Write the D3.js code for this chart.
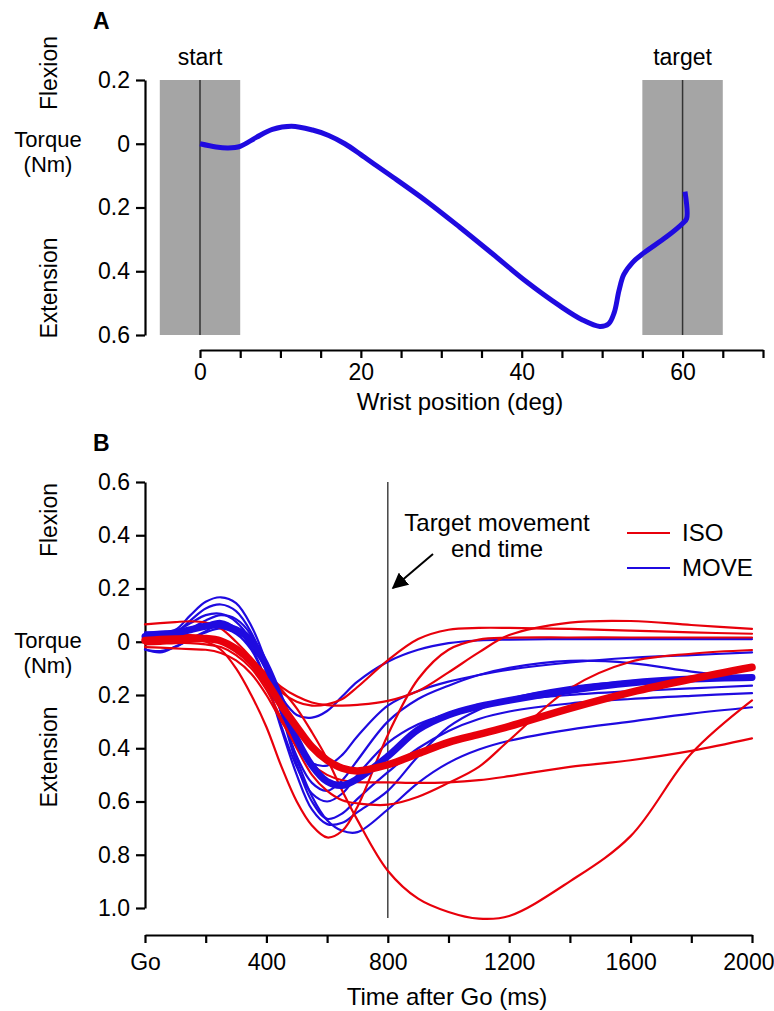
<!DOCTYPE html>
<html><head><meta charset="utf-8">
<script src="https://cdn.jsdelivr.net/npm/d3@7"></script>
<style>
body{margin:0;background:#fff}
svg{display:block}
text{font-family:"Liberation Sans",Arial,Helvetica,sans-serif;}
</style>
</head><body>
<svg id="chart" width="774" height="1011"></svg>
<script>
// ---------- Panel A data ----------
const wristPos    = [0, 2, 3.5, 5, 7, 9, 11.4, 14, 16, 18, 20, 22, 24, 28.2, 32.3, 36.4, 40.6, 44.7, 47.5, 49.7, 50.8, 51.5, 52.1, 52.7, 53.8, 55.1, 58, 60, 60.5, 60.3];
const wristTorque = [0, -0.01, -0.013, -0.008, 0.02, 0.045, 0.055, 0.043, 0.026, 0.0, -0.034, -0.07, -0.105, -0.181, -0.262, -0.346, -0.433, -0.508, -0.552, -0.573, -0.565, -0.53, -0.46, -0.41, -0.372, -0.344, -0.292, -0.25, -0.235, -0.15];
const aYTickValues = [0.2, 0, -0.2, -0.4, -0.6];
const aXTickValues = [0, 5, 10, 15, 20, 25, 30, 35, 40, 45, 50, 55, 60, 65, 70];
const aXTickLabels = [0, 20, 40, 60];
const zoneNames = ["start", "target"];
const zoneCenters = [0, 60];
const zoneHalfWidth = 5;

// ---------- Panel B data ----------
const timeMs = [0, 50, 100, 150, 200, 250, 300, 350, 400, 450, 500, 550, 600, 650, 700, 800, 900, 1000, 1100, 1200, 1400, 1600, 1800, 2000];
const isoMean  = [0.005, 0.008, 0.01, 0.012, 0.012, 0.003, -0.027, -0.075, -0.15, -0.24, -0.32, -0.395, -0.445, -0.475, -0.485, -0.462, -0.42, -0.378, -0.348, -0.318, -0.25, -0.19, -0.14, -0.096];
const moveMean = [0.02, 0.025, 0.033, 0.045, 0.058, 0.062, 0.045, 0.005, -0.09, -0.225, -0.365, -0.465, -0.525, -0.54, -0.515, -0.43, -0.33, -0.275, -0.243, -0.22, -0.183, -0.155, -0.14, -0.134];
const iso1 = [0.065, 0.07, 0.074, 0.077, 0.072, 0.05, 0.0, -0.06, -0.13, -0.19, -0.225, -0.24, -0.235, -0.215, -0.17, -0.07, 0.01, 0.045, 0.052, 0.052, 0.048, 0.042, 0.035, 0.03];
const iso2 = [0.02, 0.02, 0.025, 0.025, 0.02, 0.008, -0.03, -0.07, -0.12, -0.17, -0.205, -0.228, -0.238, -0.24, -0.237, -0.222, -0.185, -0.115, -0.04, 0.025, 0.072, 0.078, 0.063, 0.048];
const iso3 = [0.0, 0.002, 0.005, 0.005, 0.0, -0.03, -0.1, -0.2, -0.32, -0.47, -0.6, -0.69, -0.735, -0.71, -0.62, -0.35, -0.14, -0.03, 0.008, 0.015, 0.016, 0.016, 0.016, 0.016];
const iso4 = [-0.01, -0.008, -0.005, -0.005, -0.01, -0.02, -0.05, -0.1, -0.18, -0.29, -0.4, -0.5, -0.56, -0.595, -0.607, -0.612, -0.582, -0.53, -0.47, -0.37, -0.175, -0.075, -0.045, -0.031];
const iso5 = [-0.02, -0.022, -0.025, -0.028, -0.03, -0.042, -0.07, -0.12, -0.2, -0.3, -0.39, -0.46, -0.5, -0.52, -0.527, -0.528, -0.53, -0.528, -0.52, -0.505, -0.47, -0.445, -0.41, -0.363];
const iso6 = [0.01, 0.012, 0.015, 0.015, 0.01, 0.0, -0.03, -0.07, -0.12, -0.18, -0.25, -0.34, -0.44, -0.56, -0.67, -0.86, -0.965, -1.015, -1.04, -1.03, -0.9, -0.73, -0.42, -0.22];
const move1 = [0.01, 0.012, 0.02, 0.04, 0.065, 0.078, 0.05, -0.02, -0.1, -0.21, -0.275, -0.285, -0.26, -0.205, -0.15, -0.075, -0.03, -0.005, 0.005, 0.008, 0.01, 0.01, 0.01, 0.01];
const move2 = [0.03, 0.032, 0.04, 0.07, 0.1, 0.105, 0.075, 0.005, -0.11, -0.26, -0.39, -0.455, -0.465, -0.425, -0.355, -0.24, -0.185, -0.15, -0.125, -0.105, -0.078, -0.06, -0.05, -0.04];
const move3 = [0.02, 0.025, 0.035, 0.08, 0.125, 0.14, 0.115, 0.035, -0.1, -0.27, -0.43, -0.53, -0.56, -0.52, -0.445, -0.3, -0.215, -0.165, -0.125, -0.098, -0.072, -0.08, -0.112, -0.14];
const move4 = [-0.028, -0.04, -0.018, 0.01, 0.035, 0.05, 0.03, -0.03, -0.15, -0.32, -0.47, -0.57, -0.6, -0.57, -0.5, -0.38, -0.31, -0.27, -0.242, -0.222, -0.2, -0.186, -0.175, -0.165];
const move5 = [0.035, 0.038, 0.045, 0.1, 0.15, 0.167, 0.145, 0.06, -0.08, -0.27, -0.46, -0.6, -0.665, -0.645, -0.59, -0.49, -0.4, -0.335, -0.29, -0.262, -0.232, -0.215, -0.203, -0.193];
const move6 = [-0.03, -0.035, -0.02, 0.01, 0.04, 0.07, 0.05, -0.02, -0.15, -0.33, -0.5, -0.63, -0.685, -0.68, -0.64, -0.56, -0.43, -0.32, -0.255, -0.215, -0.17, -0.148, -0.136, -0.128];
const move7 = [0.02, 0.022, 0.025, 0.05, 0.08, 0.1, 0.085, 0.025, -0.1, -0.27, -0.44, -0.58, -0.67, -0.71, -0.715, -0.63, -0.53, -0.455, -0.405, -0.372, -0.33, -0.3, -0.27, -0.246];
const bYTickValues = [0.6, 0.4, 0.2, 0, -0.2, -0.4, -0.6, -0.8, -1.0];
const bXTickValues = [0, 200, 400, 600, 800, 1000, 1200, 1400, 1600, 1800, 2000];
const bXTickLabels = [0, 400, 800, 1200, 1600, 2000];
const movementEndTime = 800;
const legendNames = ["ISO", "MOVE"];

const RED = "#e8000b", BLUE = "#1f0ae0";
const FONT = 23, TITLE_FONT = 24, YLAB_FONT = 22;
const svg = d3.select("#chart");

function styleAxis(g) {
  g.attr("font-size", FONT).attr("font-family", '"Liberation Sans",Arial,Helvetica,sans-serif');
  g.selectAll("path.domain").attr("stroke", "#000").attr("stroke-width", 2.2);
  g.selectAll(".tick line").attr("stroke", "#000").attr("stroke-width", 2.2);
  g.selectAll(".tick text").attr("fill", "#000");
}

// ================= Panel A =================
const xA = d3.scaleLinear().domain([0, 70]).range([200, 763]);
const yA = d3.scaleLinear().domain([0.2, -0.6]).range([80, 335]);

zoneCenters.forEach((c, i) => {
  svg.append("rect")
    .attr("x", xA(c - zoneHalfWidth)).attr("y", yA(0.2))
    .attr("width", xA(c + zoneHalfWidth) - xA(c - zoneHalfWidth))
    .attr("height", yA(-0.6) - yA(0.2))
    .attr("fill", "#a5a5a5");
  svg.append("line")
    .attr("x1", xA(c)).attr("x2", xA(c)).attr("y1", yA(0.2)).attr("y2", yA(-0.6))
    .attr("stroke", "#333").attr("stroke-width", 1.5);
  svg.append("text").attr("x", xA(c)).attr("y", 65).attr("text-anchor", "middle")
    .attr("font-size", FONT).text(zoneNames[i]);
});

const gyA = svg.append("g").attr("transform", "translate(145,0)")
  .call(d3.axisLeft(yA).tickValues(aYTickValues).tickSize(9).tickPadding(6).tickSizeOuter(0)
    .tickFormat(d => d === 0 ? "0" : Math.abs(d).toFixed(1)));
styleAxis(gyA);

const gxA = svg.append("g").attr("transform", "translate(0,350)")
  .call(d3.axisBottom(xA).tickValues(aXTickValues).tickSize(8).tickPadding(6).tickSizeOuter(0)
    .tickFormat(d => aXTickLabels.includes(d) ? d : ""));
styleAxis(gxA);

svg.append("text").attr("x", 460).attr("y", 410).attr("text-anchor", "middle")
  .attr("font-size", TITLE_FONT).text("Wrist position (deg)");

const lineA = d3.line().x((d, i) => xA(wristPos[i])).y(d => yA(d)).curve(d3.curveCatmullRom.alpha(0.5));
svg.append("path").attr("d", lineA(wristTorque)).attr("fill", "none")
  .attr("stroke", BLUE).attr("stroke-width", 5).attr("stroke-linejoin", "round");

function yLabels(cFlex, torqueBase, cExt) {
  svg.append("text").attr("transform", `translate(57,${cFlex}) rotate(-90)`).attr("text-anchor", "middle")
    .attr("font-size", FONT).text("Flexion");
  svg.append("text").attr("x", 48).attr("y", torqueBase).attr("text-anchor", "middle")
    .attr("font-size", YLAB_FONT).text("Torque");
  svg.append("text").attr("x", 48).attr("y", torqueBase + 25).attr("text-anchor", "middle")
    .attr("font-size", YLAB_FONT).text("(Nm)");
  svg.append("text").attr("transform", `translate(57,${cExt}) rotate(-90)`).attr("text-anchor", "middle")
    .attr("font-size", FONT).text("Extension");
}
yLabels(73, 147, 288);
svg.append("text").attr("x", 93).attr("y", 29).attr("font-size", 23).attr("font-weight", "bold").text("A");

// ================= Panel B =================
const xB = d3.scaleLinear().domain([0, 2000]).range([145, 752]);
const yB = d3.scaleLinear().domain([0.6, -1.0]).range([482, 908]);

const gyB = svg.append("g").attr("transform", "translate(145,0)")
  .call(d3.axisLeft(yB).tickValues(bYTickValues).tickSize(9).tickPadding(6).tickSizeOuter(0)
    .tickFormat(d => Math.abs(d) < 1e-9 ? "0" : Math.abs(d).toFixed(1)));
styleAxis(gyB);

const gxB = svg.append("g").attr("transform", "translate(0,935)")
  .call(d3.axisBottom(xB).tickValues(bXTickValues).tickSize(8).tickPadding(11).tickSizeOuter(0)
    .tickFormat(d => d === 0 ? "Go" : (bXTickLabels.includes(d) ? d : "")));
styleAxis(gxB);
gxB.selectAll(".tick text").filter(d => d === 2000).attr("text-anchor", "end").attr("dx", 22);

svg.append("text").attr("x", 447).attr("y", 1005).attr("text-anchor", "middle")
  .attr("font-size", TITLE_FONT).text("Time after Go (ms)");

yLabels(520, 648, 757);
svg.append("text").attr("x", 93).attr("y", 451).attr("font-size", 23).attr("font-weight", "bold").text("B");

svg.append("line").attr("x1", xB(movementEndTime)).attr("x2", xB(movementEndTime))
  .attr("y1", 482).attr("y2", 918).attr("stroke", "#444").attr("stroke-width", 1.5);

const lineB = d3.line().x((d, i) => xB(timeMs[i])).y(d => yB(d)).curve(d3.curveCatmullRom.alpha(0.5));
const moveTrials = [move1, move2, move3, move4, move5, move6, move7];
const isoTrials = [iso1, iso2, iso3, iso4, iso5, iso6];
const gl = svg.append("g").attr("fill", "none").attr("stroke-linejoin", "round").attr("stroke-linecap", "round");
moveTrials.forEach(s => gl.append("path").attr("d", lineB(s)).attr("stroke", BLUE).attr("stroke-width", 2.2));
isoTrials.forEach(s => gl.append("path").attr("d", lineB(s)).attr("stroke", RED).attr("stroke-width", 2.2));
gl.append("path").attr("d", lineB(moveMean)).attr("stroke", BLUE).attr("stroke-width", 7);
gl.append("path").attr("d", lineB(isoMean)).attr("stroke", RED).attr("stroke-width", 7.5);

// annotation
svg.append("text").attr("x", 497).attr("y", 531).attr("text-anchor", "middle").attr("font-size", TITLE_FONT).text("Target movement");
svg.append("text").attr("x", 497).attr("y", 557).attr("text-anchor", "middle").attr("font-size", TITLE_FONT).text("end time");
svg.append("defs").append("marker").attr("id", "ah").attr("viewBox", "0 0 10 10").attr("refX", 9).attr("refY", 5)
  .attr("markerWidth", 8).attr("markerHeight", 8).attr("markerUnits", "strokeWidth").attr("orient", "auto")
  .append("path").attr("d", "M0,0 L10,5 L0,10 z").attr("fill", "#000");
svg.append("line").attr("x1", 433).attr("y1", 554).attr("x2", 393).attr("y2", 588)
  .attr("stroke", "#000").attr("stroke-width", 2).attr("marker-end", "url(#ah)");

// legend
[RED, BLUE].forEach((c, i) => {
  const y = 533 + i * 35;
  svg.append("line").attr("x1", 627).attr("x2", 670).attr("y1", y).attr("y2", y).attr("stroke", c).attr("stroke-width", 2.2);
  svg.append("text").attr("x", 682).attr("y", y + 8).attr("font-size", TITLE_FONT).text(legendNames[i]);
});
</script>
</body></html>
